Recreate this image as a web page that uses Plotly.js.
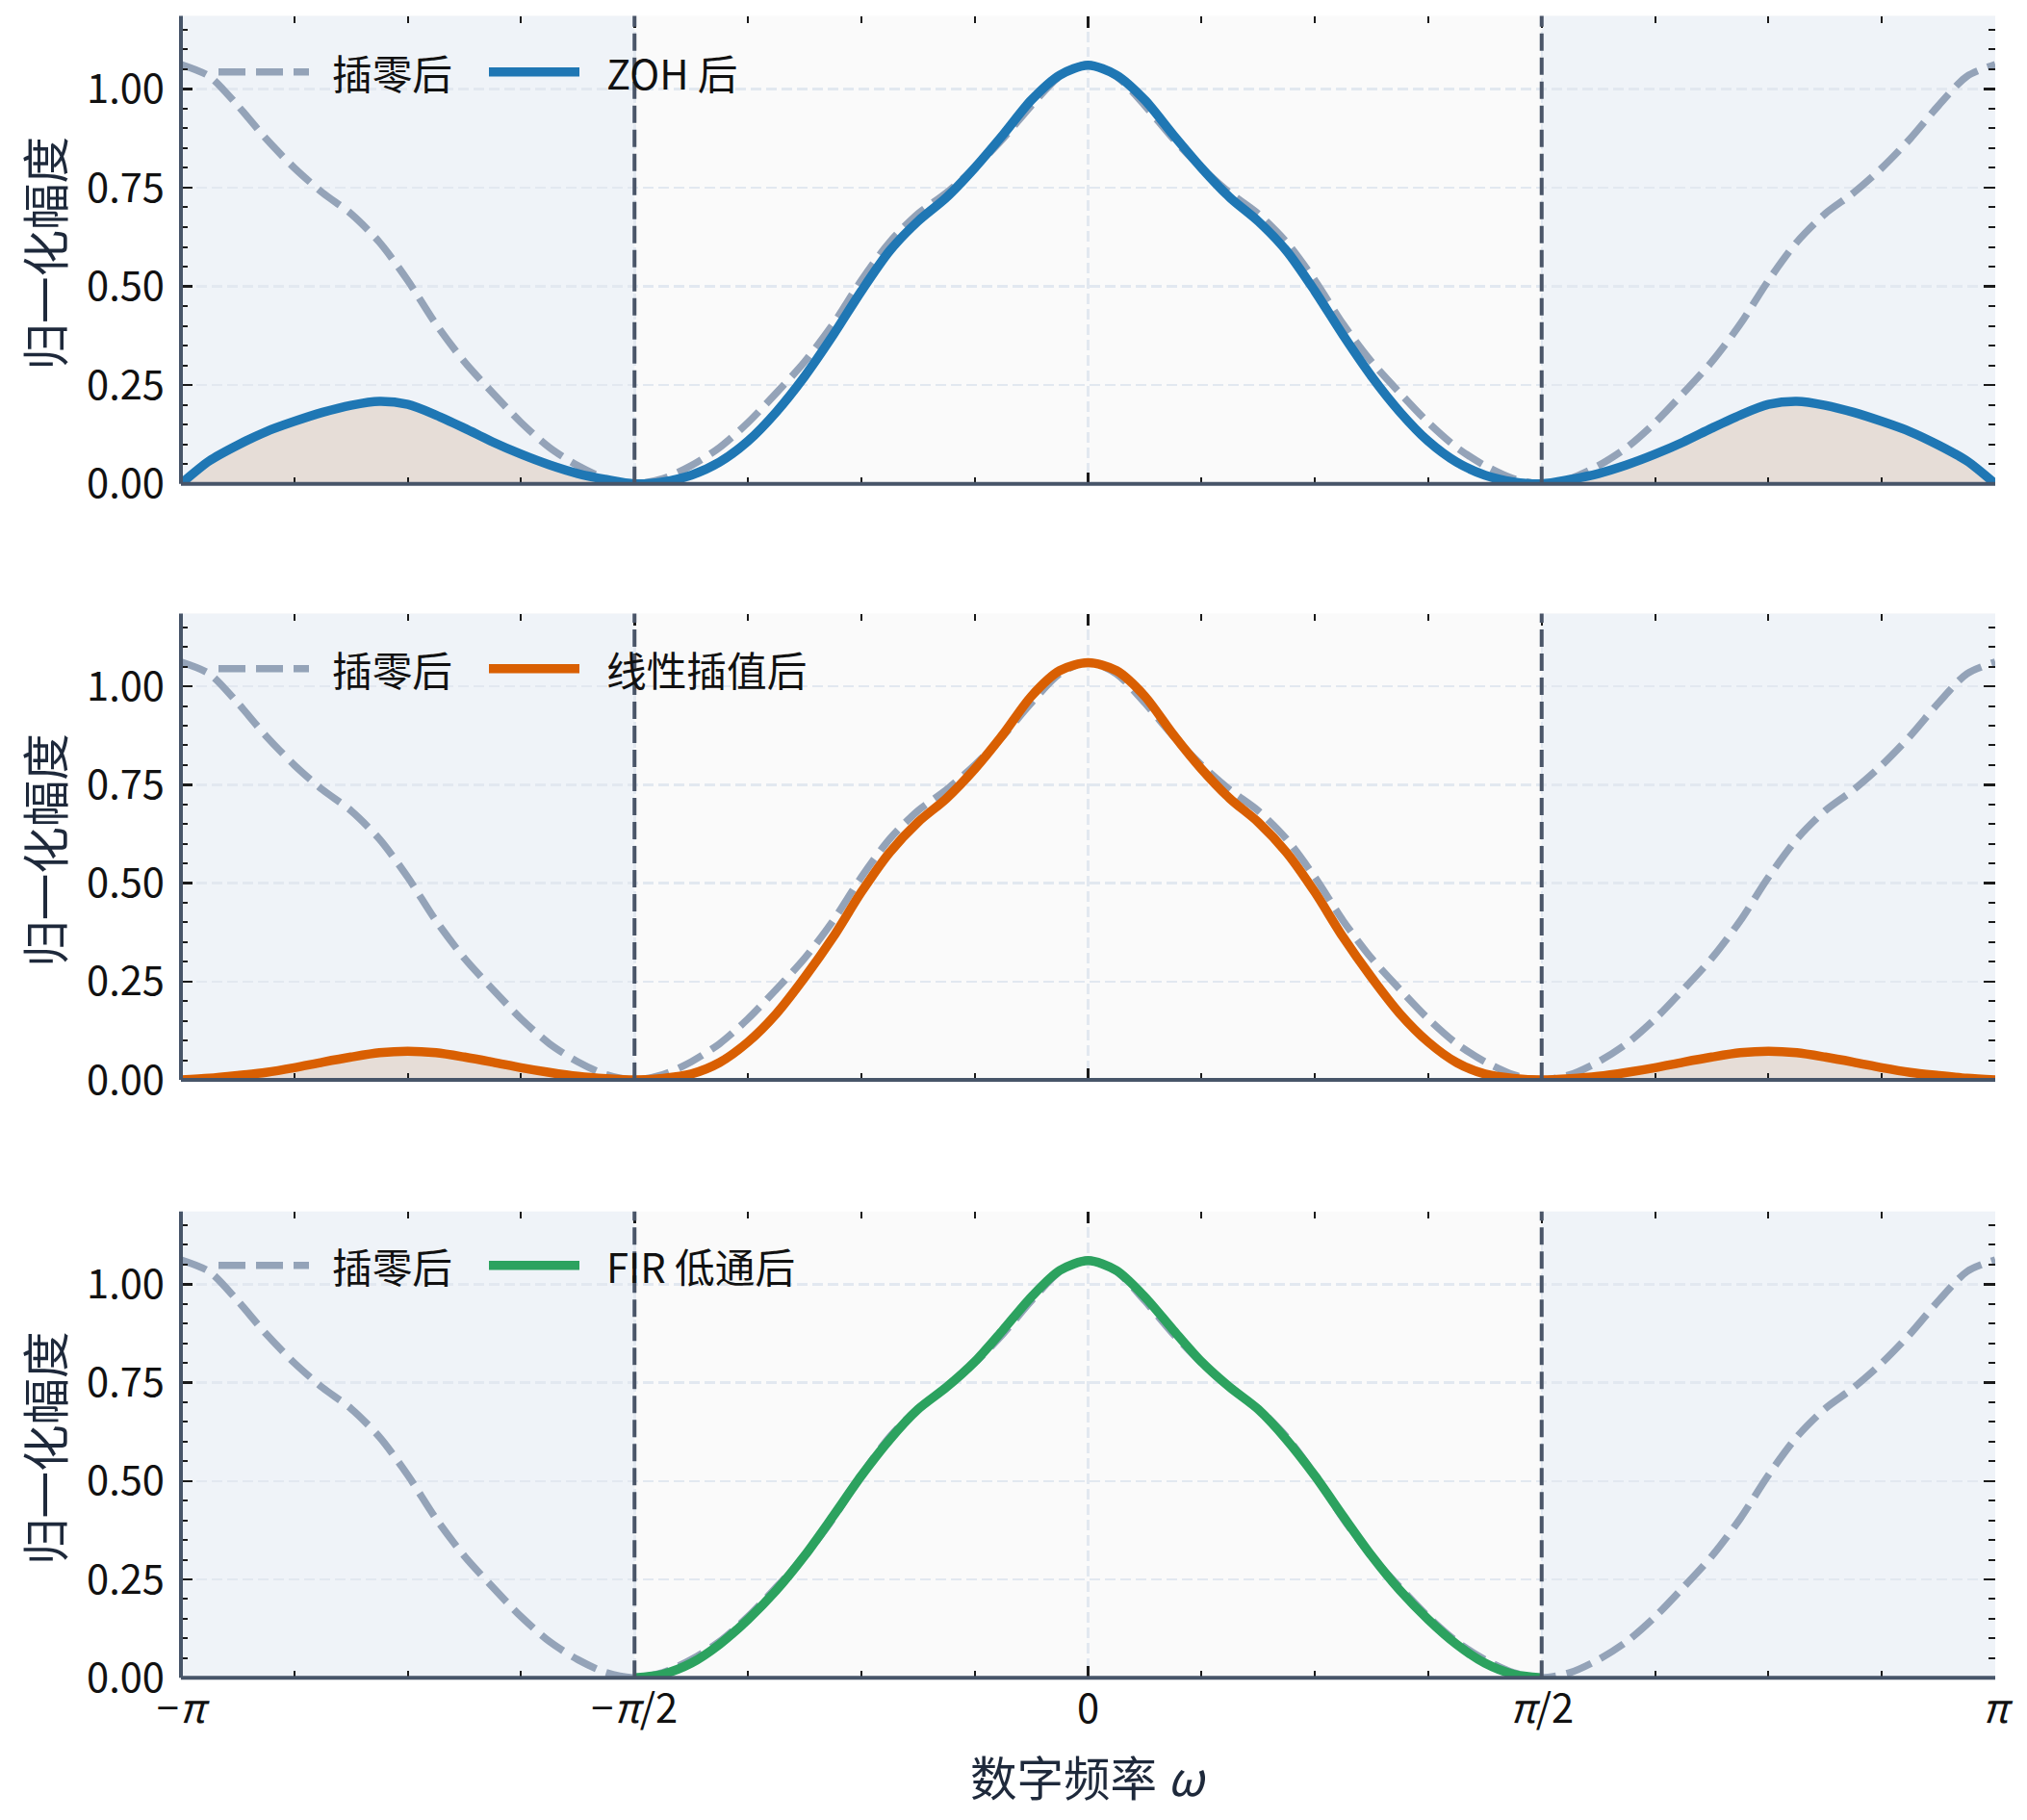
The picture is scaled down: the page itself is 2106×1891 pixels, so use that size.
<!DOCTYPE html>
<html>
<head>
<meta charset="utf-8">
<script src="https://cdn.plot.ly/plotly-3.0.1.min.js"></script>
<style>
html,body{margin:0;padding:0;background:#ffffff;}
#chart{width:2106px;height:1891px;}
</style>
</head>
<body>
<div id="chart"></div>
<script>
// ---------------- data (x in units of pi) ----------------
const omegaOverPi = [
  -1, -0.96875, -0.9375, -0.90625, -0.875, -0.84375, -0.8125, -0.78125,
  -0.75, -0.71875, -0.6875, -0.65625, -0.625, -0.59375, -0.5625, -0.53125,
  -0.5, -0.46875, -0.4375, -0.40625, -0.375, -0.34375, -0.3125, -0.28125,
  -0.25, -0.21875, -0.1875, -0.15625, -0.125, -0.09375, -0.0625, -0.03125,
  0,
  0.03125, 0.0625, 0.09375, 0.125, 0.15625, 0.1875, 0.21875, 0.25,
  0.28125, 0.3125, 0.34375, 0.375, 0.40625, 0.4375, 0.46875, 0.5,
  0.53125, 0.5625, 0.59375, 0.625, 0.65625, 0.6875, 0.71875, 0.75,
  0.78125, 0.8125, 0.84375, 0.875, 0.90625, 0.9375, 0.96875, 1
];

// 插零后 (zero-inserted spectrum)
const zeroInserted = [
  1.062, 1.032, 0.958, 0.874, 0.800, 0.737, 0.684, 0.612, 0.515, 0.404, 0.309, 0.230, 0.155, 0.092, 0.046, 0.013, 0,
  0.013, 0.046, 0.092, 0.155, 0.230, 0.309, 0.404, 0.515, 0.612, 0.684, 0.737, 0.800, 0.874, 0.958, 1.032, 1.062,
  1.032, 0.958, 0.874, 0.800, 0.737, 0.684, 0.612, 0.515, 0.404, 0.309, 0.230, 0.155, 0.092, 0.046, 0.013, 0,
  0.013, 0.046, 0.092, 0.155, 0.230, 0.309, 0.404, 0.515, 0.612, 0.684, 0.737, 0.800, 0.874, 0.958, 1.032, 1.062
];

// ZOH 后
const zohOut = [
  0, 0.058, 0.098, 0.132, 0.158, 0.181, 0.199, 0.209, 0.201, 0.174, 0.141, 0.106, 0.075, 0.048, 0.026, 0.011, 0,
  0.005, 0.022, 0.055, 0.108, 0.182, 0.272, 0.376, 0.488, 0.590, 0.665, 0.725, 0.800, 0.884, 0.972, 1.035, 1.060,
  1.035, 0.972, 0.884, 0.800, 0.725, 0.665, 0.590, 0.488, 0.376, 0.272, 0.182, 0.108, 0.055, 0.022, 0.005, 0,
  0.011, 0.026, 0.048, 0.075, 0.106, 0.141, 0.174, 0.201, 0.209, 0.199, 0.181, 0.158, 0.132, 0.098, 0.058, 0
];

// 线性插值后
const linearOut = [
  0, 0.004, 0.011, 0.019, 0.031, 0.045, 0.058, 0.069, 0.073, 0.069, 0.058, 0.045, 0.031, 0.019, 0.009, 0.003, 0,
  0.004, 0.015, 0.044, 0.096, 0.168, 0.260, 0.362, 0.477, 0.578, 0.655, 0.715, 0.790, 0.878, 0.975, 1.040, 1.060,
  1.040, 0.975, 0.878, 0.790, 0.715, 0.655, 0.578, 0.477, 0.362, 0.260, 0.168, 0.096, 0.044, 0.015, 0.004, 0,
  0.003, 0.009, 0.019, 0.031, 0.045, 0.058, 0.069, 0.073, 0.069, 0.058, 0.045, 0.031, 0.019, 0.011, 0.004, 0
];

// FIR 低通后 (only the passband is drawn)
const firOut = [
  null, null, null, null, null, null, null, null, null, null, null, null, null, null, null, null, 0,
  0.009, 0.037, 0.085, 0.148, 0.222, 0.310, 0.410, 0.513, 0.605, 0.682, 0.738, 0.803, 0.884, 0.968, 1.035, 1.060,
  1.035, 0.968, 0.884, 0.803, 0.738, 0.682, 0.605, 0.513, 0.410, 0.310, 0.222, 0.148, 0.085, 0.037, 0.009, 0,
  null, null, null, null, null, null, null, null, null, null, null, null, null, null, null, null
];

const refName = '插零后';
const seriesNames = ['ZOH 后', '线性插值后', 'FIR 低通后'];
const seriesValues = [zohOut, linearOut, firOut];
const imageFill = [true, true, false];

const xTickVals = [-1, -0.5, 0, 0.5, 1];
const xTickText = ['−<i>π</i>', '−<i>π</i>/2', '0', '<i>π</i>/2', '<i>π</i>'];
const yTickVals = [0, 0.25, 0.5, 0.75, 1.0];
const yTickText = ['0.00', '0.25', '0.50', '0.75', '1.00'];
const passbandEdge = 0.5;   // ±π/2

const yTitle = '归一化幅度';
const xTitle = '数字频率 <i>ω</i>';

// ---------------- styling ----------------
const W = 2106, H = 1891;
const FONT = '"Noto Sans CJK SC", "Noto Sans", sans-serif';
const colors = {ref: '#94a3b8', series: ['#1f77b4', '#d95f02', '#2ca25f'],
  fill: '#e6ddd7', stop: '#eff3f8', plotbg: '#fafafa', spine: '#475569',
  grid: '#e2e8f0', vline: '#4a5568', tick: '#1a1a1a'};

const xDomain = [188 / W, 2073 / W];
const yDomains = [
  [1 - 502.7 / H, 1 - 16.5 / H],
  [1 - 1122 / H, 1 - 637.5 / H],
  [1 - 1743.2 / H, 1 - 1258.7 / H]
];
const legendY = [1 - 74.8 / H, 1 - 694.8 / H, 1 - 1314.8 / H];

const traces = [];
const shapes = [];
const annotations = [];
const layout = {
  width: W, height: H,
  margin: {l: 0, r: 0, t: 0, b: 0, pad: 0},
  paper_bgcolor: '#ffffff',
  plot_bgcolor: colors.plotbg,
  showlegend: false,
  font: {family: FONT, size: 41.7, color: '#111111'},
  shapes: shapes,
  annotations: annotations
};

for (let i = 0; i < 3; i++) {
  const sfx = i === 0 ? '' : String(i + 1);
  const xa = 'x' + sfx, ya = 'y' + sfx;
  const stopIdxL = [], stopIdxR = [];
  omegaOverPi.forEach((w, k) => {
    if (w <= -passbandEdge) stopIdxL.push(k);
    if (w >= passbandEdge) stopIdxR.push(k);
  });

  if (imageFill[i]) {
    [stopIdxL, stopIdxR].forEach(idx => {
      traces.push({
        x: idx.map(k => omegaOverPi[k]), y: idx.map(k => seriesValues[i][k]),
        xaxis: xa, yaxis: ya, type: 'scatter', mode: 'lines',
        line: {width: 0, shape: 'spline', smoothing: 0.8, color: colors.fill},
        fill: 'tozeroy', fillcolor: colors.fill, hoverinfo: 'skip', showlegend: false
      });
    });
  }
  traces.push({
    x: omegaOverPi, y: zeroInserted, xaxis: xa, yaxis: ya, type: 'scatter', mode: 'lines',
    name: refName, line: {color: colors.ref, width: 7.5, dash: '28px,11px', shape: 'spline', smoothing: 0.8}
  });
  traces.push({
    x: omegaOverPi, y: seriesValues[i], xaxis: xa, yaxis: ya, type: 'scatter', mode: 'lines',
    name: seriesNames[i], connectgaps: false,
    line: {color: colors.series[i], width: 9.5, shape: 'spline', smoothing: 0.8}
  });

  layout['xaxis' + sfx] = {
    domain: xDomain, anchor: ya, range: [-1, 1], fixedrange: true,
    tickmode: 'array', tickvals: xTickVals, ticktext: xTickText,
    showticklabels: i === 2,
    ticks: 'inside', ticklen: 12, tickwidth: 2.5, tickcolor: colors.tick,
    minor: {ticks: 'inside', ticklen: 7, tickwidth: 2, tickcolor: colors.tick,
            tick0: -1, dtick: 0.125, showgrid: false},
    showline: false, mirror: 'ticks',
    showgrid: true, gridcolor: colors.grid, gridwidth: 2.5, griddash: '11px,5px',
    zeroline: false,
    tickfont: {family: FONT, size: 41.7, color: '#111111'},
    ticklabelstandoff: 4
  };
  layout['yaxis' + sfx] = {
    domain: yDomains[i], anchor: xa, range: [0, 1.185], fixedrange: true,
    tickmode: 'array', tickvals: yTickVals, ticktext: yTickText,
    ticks: 'inside', ticklen: 12, tickwidth: 2.5, tickcolor: colors.tick,
    minor: {ticks: 'inside', ticklen: 7, tickwidth: 2, tickcolor: colors.tick,
            tick0: 0, dtick: 0.05, showgrid: false},
    showline: false, mirror: 'ticks',
    showgrid: true, gridcolor: colors.grid, gridwidth: 2.5, griddash: '11px,5px',
    zeroline: false,
    tickfont: {family: FONT, size: 41.7, color: '#111111'},
    ticklabelstandoff: 16
  };

  // stopband shading
  shapes.push({type: 'rect', xref: xa, yref: ya + ' domain', x0: -1, x1: -passbandEdge, y0: 0, y1: 1,
    fillcolor: colors.stop, line: {width: 0}, layer: 'below'});
  shapes.push({type: 'rect', xref: xa, yref: ya + ' domain', x0: passbandEdge, x1: 1, y0: 0, y1: 1,
    fillcolor: colors.stop, line: {width: 0}, layer: 'below'});
  // passband edges
  [-passbandEdge, passbandEdge].forEach(xv => {
    shapes.push({type: 'line', xref: xa, yref: ya + ' domain', x0: xv, x1: xv, y0: 0, y1: 1,
      line: {color: colors.vline, width: 4, dash: '18px,7px'}, layer: 'above'});
  });
  // left & bottom spines
  shapes.push({type: 'line', xref: xa + ' domain', yref: ya + ' domain', x0: 0, x1: 1, y0: 0, y1: 0,
    line: {color: colors.spine, width: 4}, layer: 'above'});
  shapes.push({type: 'line', xref: xa + ' domain', yref: ya + ' domain', x0: 0, x1: 0, y0: 0, y1: 1,
    line: {color: colors.spine, width: 4}, layer: 'above'});

  // manual legend
  const ly = legendY[i];
  shapes.push({type: 'line', xref: 'paper', yref: 'paper', x0: 227 / W, x1: 321 / W, y0: ly, y1: ly,
    line: {color: colors.ref, width: 7.5, dash: '28px,11px'}, layer: 'above'});
  shapes.push({type: 'line', xref: 'paper', yref: 'paper', x0: 508 / W, x1: 602 / W, y0: ly, y1: ly,
    line: {color: colors.series[i], width: 9.5}, layer: 'above'});
  annotations.push({xref: 'paper', yref: 'paper', x: 343 / W, y: ly, xanchor: 'left', yanchor: 'middle',
    text: refName, showarrow: false, font: {family: FONT, size: 41.7, color: '#111111'}});
  annotations.push({xref: 'paper', yref: 'paper', x: 628 / W, y: ly, xanchor: 'left', yanchor: 'middle',
    text: seriesNames[i], showarrow: false, font: {family: FONT, size: 41.7, color: '#111111'}});

  // y-axis title
  annotations.push({xref: 'paper', yref: 'paper', x: 45 / W,
    y: (yDomains[i][0] + yDomains[i][1]) / 2 - 4 / H, xanchor: 'center', yanchor: 'middle',
    textangle: -90, text: yTitle, showarrow: false,
    font: {family: FONT, size: 48.5, color: '#1e293b'}});
}

// x-axis title
annotations.push({xref: 'paper', yref: 'paper', x: (xDomain[0] + xDomain[1]) / 2, y: 1 - 1845 / H,
  xanchor: 'center', yanchor: 'middle', text: xTitle, showarrow: false,
  font: {family: FONT, size: 48.5, color: '#1e293b'}});

Plotly.newPlot('chart', traces, layout, {staticPlot: true, displayModeBar: false});
</script>
</body>
</html>
